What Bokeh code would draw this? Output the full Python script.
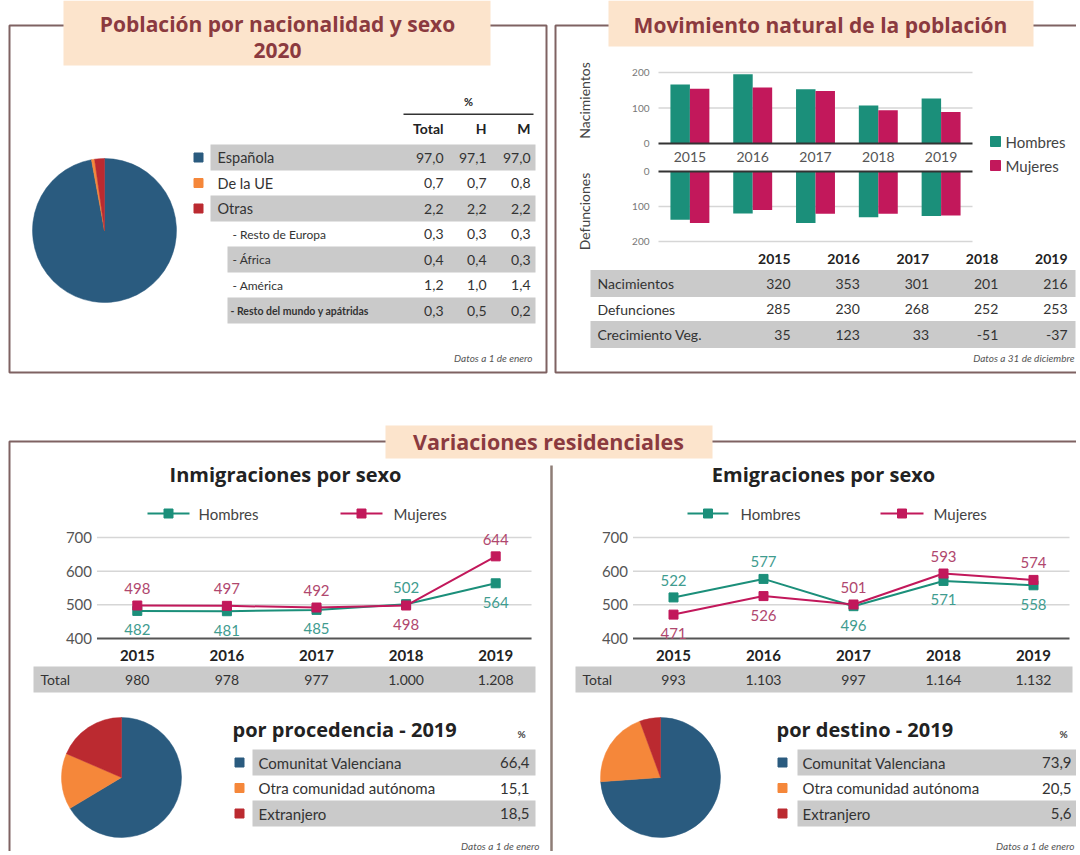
import math
from bokeh.plotting import figure
from bokeh.models import Range1d, ColumnDataSource
from bokeh.core.properties import value
from bokeh.transform import dodge
from bokeh.embed import file_html
from bokeh.resources import INLINE

# ---------------- DATA ----------------
years = [2015, 2016, 2017, 2018, 2019]

nat_labels = ["Española", "De la UE", "Otras", "- Resto de Europa", "- África",
              "- América", "- Resto del mundo y apátridas"]
nat_total = [97.0, 0.7, 2.2, 0.3, 0.4, 1.2, 0.3]
nat_h = [97.1, 0.7, 2.2, 0.3, 0.4, 1.0, 0.5]
nat_m = [97.0, 0.8, 2.2, 0.3, 0.3, 1.4, 0.2]

nac_hombres = [166, 195, 153, 107, 127]
nac_mujeres = [154, 158, 148, 94, 89]
def_hombres = [138, 120, 147, 131, 127]
def_mujeres = [147, 110, 121, 121, 126]
bar_ticks = [0, 100, 200]

mov_rows = ["Nacimientos", "Defunciones", "Crecimiento Veg."]
mov_nacimientos = [320, 353, 301, 201, 216]
mov_defunciones = [285, 230, 268, 252, 253]
mov_crecimiento = [35, 123, 33, -51, -37]

inm_hombres = [482, 481, 485, 502, 564]
inm_mujeres = [498, 497, 492, 498, 644]
inm_total = [980, 978, 977, 1000, 1208]
emi_hombres = [522, 577, 496, 571, 558]
emi_mujeres = [471, 526, 501, 593, 574]
emi_total = [993, 1103, 997, 1164, 1132]
line_ticks = [400, 500, 600, 700]

orig_labels = ["Comunitat Valenciana", "Otra comunidad autónoma", "Extranjero"]
proc_pct = [66.4, 15.1, 18.5]
dest_pct = [73.9, 20.5, 5.6]

# ---------------- STYLE ----------------
TEAL = "#1b8f7a"
MAG = "#c2185b"
TEAL_L = "#3f9c8f"
MAG_L = "#b0476e"
BLUE = "#2a5b7f"
ORANGE = "#f5873a"
RED = "#bb2a30"
PIE_COLORS = [BLUE, ORANGE, RED]
FRAME = "#7f6262"
TITLE_BG = "#fce4cc"
TITLE_FG = "#8b3a3f"
SHADE = "#cacaca"
INK = "#333333"
BODY = value("Lato")
HEAD = value("Open Sans")

W, H = 1076, 851
p = figure(width=W, height=H, x_range=Range1d(0, W), y_range=Range1d(855 - H, 855),
           x_axis_type=None, y_axis_type=None, output_backend="svg",
           toolbar_location=None, min_border=0)
p.outline_line_color = None
p.background_fill_color = "white"
p.border_fill_color = "white"


def Y(py):
    return 855 - py


def sub(xs, ys, xt, yt):
    return p.subplot(x_source=Range1d(*xs), y_source=Range1d(*ys),
                     x_target=Range1d(*xt), y_target=Range1d(Y(yt[0]), Y(yt[1])))


def txt(t, x, y, text, size, color=INK, align="left", style="normal", font=BODY, **kw):
    n = len(text)
    xs = x if isinstance(x, list) else [x] * n
    ys = y if isinstance(y, list) else [y] * n
    t.text(x=xs, y=ys, text=text, text_font=font, text_font_size=f"{size}px",
           text_color=color, text_align=align, text_baseline="middle",
           text_font_style=style, **kw)


def f1(v):
    return f"{v:.1f}".replace(".", ",")


def fint(v):
    return f"{v:,}".replace(",", ".")


def pie(cx, cy, r, vals):
    tot = sum(vals)
    starts, ends, c = [], [], 0.0
    for v in vals:
        starts.append(math.pi / 2 - c / tot * 2 * math.pi)
        c += v
        ends.append(math.pi / 2 - c / tot * 2 * math.pi)
    p.wedge(x=cx, y=Y(cy), radius=r, start_angle=starts, end_angle=ends,
            direction="clock", fill_color=PIE_COLORS, line_color=PIE_COLORS, line_width=0.5)


# ---------------- FRAMES & TITLES ----------------
p.quad(left=9, right=546, bottom=Y(372), top=Y(25), fill_color=None, line_color=FRAME, line_width=2)
p.quad(left=555, right=1095, bottom=Y(372), top=Y(25), fill_color=None, line_color=FRAME, line_width=2)
p.quad(left=9, right=1095, bottom=Y(880), top=Y(441), fill_color=None, line_color=FRAME, line_width=2)
p.segment(x0=551, y0=Y(465), x1=551, y1=Y(880), line_color="#8e7d76", line_width=2.5)

p.quad(left=63, right=490, top=Y(0), bottom=Y(65), fill_color=TITLE_BG, line_color=None)
txt(p, 277, Y(23), ["Población por nacionalidad y sexo"], 21, TITLE_FG, "center", "bold", HEAD)
txt(p, 277, Y(50), ["2020"], 21, TITLE_FG, "center", "bold", HEAD)
p.quad(left=608, right=1033, top=Y(0), bottom=Y(46), fill_color=TITLE_BG, line_color=None)
txt(p, 820, Y(24), ["Movimiento natural de la población"], 21, TITLE_FG, "center", "bold", HEAD)
p.quad(left=385, right=712, top=Y(425), bottom=Y(458), fill_color=TITLE_BG, line_color=None)
txt(p, 548, Y(441), ["Variaciones residenciales"], 21.5, TITLE_FG, "center", "bold", HEAD)

# ---------------- TOP-LEFT: nationality ----------------
pie(104, 230, 72, nat_total[:3])
nat = sub((0, 1064), (0, 6), (0, 1064), (157, 310))
rows = list(range(len(nat_labels)))
nat.hbar(y=[0, 2, 4, 6], left=[210, 210, 227, 227], right=535, height=1.02,
         fill_color=SHADE, line_color=None)
nat.scatter(x=[198] * 3, y=rows[:3], marker="square", size=9, color=PIE_COLORS)
txt(nat, 217, rows[:3], nat_labels[:3], 14.5)
txt(nat, 232, rows[3:6], nat_labels[3:6], 12)
txt(nat, 230, [6], nat_labels[6:], 10.5, style="bold")
txt(nat, 443, rows, [f1(v) for v in nat_total], 14, align="right")
txt(nat, 486, rows, [f1(v) for v in nat_h], 14, align="right")
txt(nat, 530, rows, [f1(v) for v in nat_m], 14, align="right")
txt(nat, [443, 486, 530], [-1.12] * 3, ["Total", "H", "M"], 14, "#222", "right", "bold")
txt(nat, 468, [-2.2], ["%"], 11, "#222", "center", "bold")
nat.segment(x0=403, x1=533, y0=-1.7, y1=-1.7, line_color="#333", line_width=1.5)
txt(p, 532, Y(357), ["Datos a 1 de enero"], 10, "#555", "right", "italic")

# ---------------- TOP-RIGHT: births / deaths ----------------
bars = ColumnDataSource(dict(year=years, nh=nac_hombres, nm=nac_mujeres,
                             dh=def_hombres, dm=def_mujeres))
up = sub((2014.5, 2019.5), (0, 200), (658, 972), (143, 72))
lo = sub((2014.5, 2019.5), (0, 200), (658, 972), (171, 241))
for ax in (up, lo):
    ax.segment(x0=2014.5, x1=2019.5, y0=bar_ticks[1:], y1=bar_ticks[1:],
               line_color="#d6d6d6", line_width=1.5)
    txt(ax, 2014.5, bar_ticks, [str(t) for t in bar_ticks], 10, "#777", "right", x_offset=-9)
up.vbar(x=dodge("year", -0.155), top="nh", width=0.31, source=bars, fill_color=TEAL, line_color=None)
up.vbar(x=dodge("year", 0.155), top="nm", width=0.31, source=bars, fill_color=MAG, line_color=None)
lo.vbar(x=dodge("year", -0.155), top="dh", width=0.31, source=bars, fill_color=TEAL, line_color=None)
lo.vbar(x=dodge("year", 0.155), top="dm", width=0.31, source=bars, fill_color=MAG, line_color=None)
for ax in (up, lo):
    ax.segment(x0=2014.5, x1=2019.5, y0=0, y1=0, line_color="#333", line_width=2)
txt(up, years, [0] * 5, [str(y) for y in years], 14, "#555", "center", y_offset=13)
txt(p, 584, Y(100), ["Nacimientos"], 14, "#444", "center", angle=math.pi / 2)
txt(p, 584, Y(211), ["Defunciones"], 14, "#444", "center", angle=math.pi / 2)
p.scatter(x=[995, 995], y=[Y(141), Y(165)], marker="square", size=10, color=[TEAL, MAG])
txt(p, 1005, [Y(141), Y(165)], ["Hombres", "Mujeres"], 15, "#444")

mov = sub((2015, 2019), (0, 2), (790, 1067), (283, 334))
mrow = sub((0, 1), (0, 2), (590, 1075), (283, 334))
mrow.hbar(y=[0, 2], left=0, right=1, height=1.05, fill_color=SHADE, line_color=None)
txt(mrow, 0, [0, 1, 2], mov_rows, 14, "#333", x_offset=7)
txt(mov, years, [-0.97] * 5, [str(y) for y in years], 14, "#222", "right", "bold")
for r, vals in enumerate([mov_nacimientos, mov_defunciones, mov_crecimiento]):
    txt(mov, years, [r] * 5, [str(v) for v in vals], 14, "#333", "right")
txt(p, 1074, Y(357), ["Datos a 31 de diciembre"], 10, "#555", "right", "italic")


# ---------------- BOTTOM: line charts ----------------
def line_chart(xt, title, tcx, leg, hv, mv, tv, tot_left, tot_right):
    ch = sub((2014.5, 2019.5), (400, 700), xt, (638, 537))
    ch.segment(x0=2014.55, x1=2019.4, y0=line_ticks[1:], y1=line_ticks[1:],
               line_color="#d6d6d6", line_width=1.5)
    ch.segment(x0=2014.55, x1=2019.4, y0=line_ticks[0], y1=line_ticks[0],
               line_color="#555", line_width=2)
    txt(ch, 2014.55, line_ticks, [str(t) for t in line_ticks], 15, "#555", "right", x_offset=-5)
    txt(ch, years, [400] * 5, [str(y) for y in years], 15, "#222", "center", "bold", y_offset=17)
    # total row
    trow = sub((0, 1), (0, 1), (tot_left, tot_right), (692, 666))
    trow.quad(left=0, right=1, bottom=0, top=1, fill_color=SHADE, line_color=None)
    txt(trow, 0, [0.5], ["Total"], 14, "#333", x_offset=7)
    txt(ch, years, [400] * 5, [fint(v) for v in tv], 14, "#333", "center", y_offset=41)
    # lines
    for vals, col in ((hv, TEAL), (mv, MAG)):
        ch.line(years, vals, line_color=col, line_width=2)
        ch.scatter(years, vals, marker="square", size=9, color=col)
    h_off = [-17 if h > m else 19 for h, m in zip(hv, mv)]
    m_off = [-17 if m >= h else 19 for h, m in zip(hv, mv)]
    txt(ch, years, hv, [str(v) for v in hv], 15, TEAL_L, "center", y_offset=h_off)
    txt(ch, years, mv, [str(v) for v in mv], 15, MAG_L, "center", y_offset=m_off)
    # title & legend
    txt(p, tcx, Y(474), [title], 20, "#222", "center", "bold", HEAD)
    for (x0, x1, tx), col, lab in zip(leg, (TEAL, MAG), ("Hombres", "Mujeres")):
        p.segment(x0=x0, x1=x1, y0=Y(513), y1=Y(513), line_color=col, line_width=2)
        p.scatter(x=[(x0 + x1) / 2], y=[Y(513)], marker="square", size=9, color=col)
        txt(p, tx, Y(513), [lab], 15, "#444")


line_chart((92, 540), "Inmigraciones por sexo", 285,
           [(147, 189, 198), (340, 382, 393)], inm_hombres, inm_mujeres, inm_total, 33, 535)
line_chart((628, 1078), "Emigraciones por sexo", 823,
           [(687, 728, 740), (880, 923, 933)], emi_hombres, emi_mujeres, emi_total, 575, 1072)


# ---------------- BOTTOM: pies ----------------
def pie_table(cx, title, tx, sq, lab, bg_l, bg_r, vx, pct, datos_x):
    pie(cx, 777, 60, pct)
    txt(p, tx, Y(729), [title], 20, "#222", "left", "bold", HEAD)
    txt(p, vx - 8, Y(733), ["%"], 10, "#444", "center", "bold")
    tb = sub((0, 1064), (0, 2), (0, 1064), (762, 813))
    tb.hbar(y=[0, 2], left=bg_l, right=bg_r, height=1.02, fill_color=SHADE, line_color=None)
    tb.scatter(x=[sq] * 3, y=[0, 1, 2], marker="square", size=9, color=PIE_COLORS)
    txt(tb, lab, [0, 1, 2], orig_labels, 15, "#333")
    txt(tb, vx, [0, 1, 2], [f1(v) for v in pct], 15, "#333", "right")
    txt(p, datos_x, Y(845), ["Datos a 1 de enero"], 10, "#555", "right", "italic")


pie_table(121, "por procedencia - 2019", 232, 239, 258, 252, 535, 529, proc_pct, 539)
pie_table(660, "por destino - 2019", 776, 782, 802, 797, 1076, 1071, dest_pct, 1074)

open("out.html", "w").write(file_html(p, INLINE))
